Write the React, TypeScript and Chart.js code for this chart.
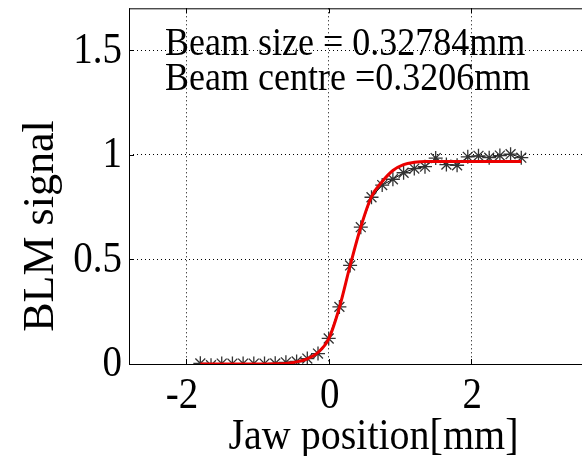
import React, { useEffect, useRef } from "react";
import { Chart, registerables } from "chart.js";

Chart.register(...registerables);

const jawPositions = [
  -1.8, -1.65, -1.5, -1.35, -1.2, -1.05, -0.9, -0.75, -0.6, -0.45, -0.3, -0.15,
  0, 0.15, 0.3, 0.45, 0.6, 0.75, 0.9, 1.05, 1.2, 1.35, 1.5, 1.65, 1.8, 1.95,
  2.1, 2.25, 2.4, 2.55, 2.7,
];
const blmSignal = [
  0.003, -0.006, 0.002, 0.002, 0.002, 0.002, 0.002, 0.003, 0.008, 0.012, 0.026,
  0.05, 0.122, 0.273, 0.471, 0.654, 0.797, 0.855, 0.883, 0.914, 0.934, 0.943,
  0.984, 0.953, 0.95, 0.99, 0.995, 0.986, 0.996, 1.003, 0.986,
];
const fitSignal = [
  0, 0, 0, 0, 0, 0, 0, 0.001, 0.003, 0.01, 0.025, 0.055, 0.12, 0.27, 0.47,
  0.655, 0.8, 0.872, 0.925, 0.953, 0.964, 0.968, 0.968, 0.968, 0.968, 0.968,
  0.968, 0.968, 0.968, 0.968, 0.968,
];
const xTicks = [-2, 0, 2];
const yTicks = [0, 0.5, 1, 1.5];
const annotationLines = ["Beam size = 0.32784mm", "Beam centre =0.3206mm"];
const xTitle = "Jaw position[mm]";
const yTitle = "BLM signal";

const FONT = "'Liberation Serif', 'DejaVu Serif', serif";
const VS = 1.12;

function stretchedText(ctx: any, text: string, x: number, y: number) {
  ctx.save();
  ctx.translate(x, y);
  ctx.scale(1, VS);
  ctx.fillText(text, 0, 0);
  ctx.restore();
}

const framePlugin = {
  id: "frame",
  afterDraw(chart: any) {
    const { ctx, chartArea } = chart;
    const { left, top, right, bottom } = chartArea;
    const xs = chart.scales.x;
    const ys = chart.scales.y;
    ctx.save();
    ctx.strokeStyle = "#000";
    ctx.lineWidth = 1;
    ctx.beginPath();
    ctx.moveTo(left, top + 0.5);
    ctx.lineTo(right, top + 0.5);
    ctx.moveTo(left + 0.5, top);
    ctx.lineTo(left + 0.5, bottom);
    ctx.moveTo(left, bottom + 0.5);
    ctx.lineTo(right, bottom + 0.5);
    for (const v of xTicks) {
      const px = Math.round(xs.getPixelForValue(v)) + 0.5;
      ctx.moveTo(px, bottom);
      ctx.lineTo(px, bottom - 5);
      ctx.moveTo(px, top);
      ctx.lineTo(px, top + 5);
    }
    for (const v of yTicks) {
      const py = Math.round(ys.getPixelForValue(v)) + 0.5;
      ctx.moveTo(left, py);
      ctx.lineTo(left + 5, py);
    }
    ctx.stroke();

    ctx.fillStyle = "#000";

    ctx.font = `39px ${FONT}`;
    ctx.textBaseline = "middle";
    ctx.textAlign = "right";
    for (const v of yTicks) {
      stretchedText(ctx, String(v), left - 7, ys.getPixelForValue(v) + 1);
    }
    ctx.textAlign = "center";
    for (const v of xTicks) {
      const off = v < 0 ? -4 : 1;
      stretchedText(ctx, String(v), xs.getPixelForValue(v) + off, bottom + 33);
    }

    ctx.font = `36px ${FONT}`;
    ctx.textAlign = "left";
    ctx.textBaseline = "alphabetic";
    annotationLines.forEach((t, i) => {
      stretchedText(ctx, t, left + 36, top + 47 + i * 35);
    });

    ctx.font = `40px ${FONT}`;
    ctx.textAlign = "center";
    stretchedText(ctx, xTitle, (left + right) / 2 + 2, 449);

    ctx.save();
    ctx.font = `44px ${FONT}`;
    ctx.translate(53, 226);
    ctx.rotate(-Math.PI / 2);
    ctx.fillText(yTitle, 0, 0);
    ctx.restore();
    ctx.restore();
  },
};

export default function App() {
  const ref = useRef<HTMLCanvasElement | null>(null);
  useEffect(() => {
    if (!ref.current) return;
    const chart = new Chart(ref.current, {
      type: "line",
      data: {
        datasets: [
          {
            label: "fit",
            data: jawPositions.map((x, i) => ({ x, y: fitSignal[i] })),
            borderColor: "rgb(235,0,0)",
            borderWidth: 3,
            pointRadius: 0,
            cubicInterpolationMode: "monotone",
            order: 0,
          },
          {
            label: "BLM",
            data: jawPositions.map((x, i) => ({ x, y: blmSignal[i] })),
            borderColor: "#000",
            borderWidth: 1,
            pointStyle: "star",
            pointRadius: 7,
            pointBorderColor: "#333",
            pointBorderWidth: 1.3,
            pointBackgroundColor: "#000",
            order: 1,
          },
        ],
      },
      options: {
        animation: false,
        responsive: false,
        maintainAspectRatio: false,
        layout: { padding: { left: 0, top: 8, right: 16, bottom: 0 } },
        plugins: {
          legend: { display: false },
          tooltip: { enabled: false },
        },
        scales: {
          x: {
            type: "linear",
            min: -2.8,
            max: 4,
            afterBuildTicks: (s: any) => {
              s.ticks = xTicks.map((v) => ({ value: v }));
            },
            afterFit: (s: any) => {
              s.height = 92;
            },
            grid: { color: "#000", lineWidth: 1, drawTicks: false },
            border: { display: false, dash: [1, 3] },
            ticks: { display: false },
          },
          y: {
            type: "linear",
            min: 0,
            max: 1.7,
            afterBuildTicks: (s: any) => {
              s.ticks = yTicks.map((v) => ({ value: v }));
            },
            afterFit: (s: any) => {
              s.width = 129;
            },
            grid: { color: "#000", lineWidth: 1, drawTicks: false },
            border: { display: false, dash: [1, 3] },
            ticks: { display: false },
          },
        },
      },
      plugins: [framePlugin],
    });
    return () => chart.destroy();
  }, []);
  return (
    <div
      style={{
        position: "fixed",
        left: 0,
        top: 0,
        width: 582,
        height: 456,
        overflow: "hidden",
        background: "#fff",
      }}
    >
      <canvas ref={ref} width={630} height={456} style={{ display: "block" }} />
    </div>
  );
}
